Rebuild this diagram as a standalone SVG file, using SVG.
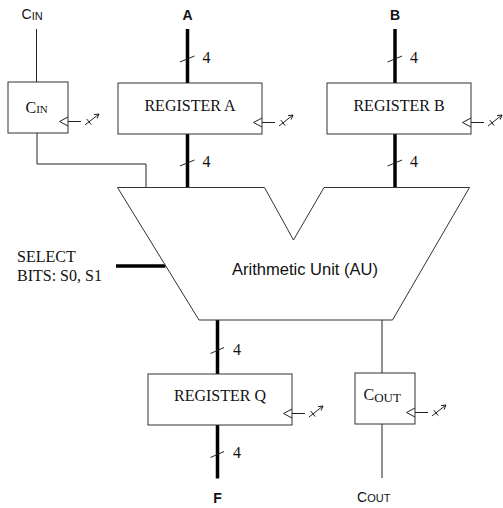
<svg xmlns="http://www.w3.org/2000/svg" xmlns:xlink="http://www.w3.org/1999/xlink" width="503" height="508" viewBox="0 0 503 508">
<style>
  .box { fill: #fff; stroke: #333; stroke-width: 1; }
  .thin { fill: none; stroke: #222; stroke-width: 1; }
  .bus { fill: none; stroke: #000; stroke-width: 3.5; }
  .tick { fill: none; stroke: #222; stroke-width: 1; }
  .serif { font-family: "Liberation Serif", "Times New Roman", serif; fill: #111; }
  .sans { font-family: "Liberation Sans", Arial, sans-serif; fill: #111; }
  .bold { font-weight: bold; }
</style>
<defs>
  <g id="clk" fill="none" stroke="#222" stroke-width="1">
    <polyline points="0,-16 -8.5,-11.5 0,-7"/>
    <line x1="0" y1="-11.5" x2="13" y2="-11.5"/>
    <line x1="17" y1="-8" x2="31" y2="-19"/>
    <polyline points="26,-18.3 31,-19 29.1,-14.4"/>
    <line x1="18.8" y1="-13.9" x2="23.2" y2="-8.4"/>
  </g>
</defs>

<g id="connectors">
  <!-- Cin input -->
  <line class="thin" x1="36.5" y1="29" x2="36.5" y2="82"/>
  <polyline class="thin" points="37,133 37,164 146,164 146,187.5"/>
  <!-- Bus A -->
  <line class="bus" x1="187.5" y1="29" x2="187.5" y2="83"/>
  <line class="tick" x1="180" y1="62" x2="194.5" y2="56"/>
  <text class="serif" x="202.5" y="63" font-size="16">4</text>
  <line class="bus" x1="187.5" y1="134" x2="187.5" y2="187.5"/>
  <line class="tick" x1="180" y1="166" x2="194.5" y2="160"/>
  <text class="serif" x="202.5" y="167" font-size="16">4</text>
  <!-- Bus B -->
  <line class="bus" x1="395" y1="29" x2="395" y2="83"/>
  <line class="tick" x1="387.5" y1="62" x2="402" y2="56"/>
  <text class="serif" x="410" y="63" font-size="16">4</text>
  <line class="bus" x1="395" y1="134" x2="395" y2="187.5"/>
  <line class="tick" x1="387.5" y1="166" x2="402" y2="160"/>
  <text class="serif" x="410" y="167" font-size="16">4</text>
  <!-- Select -->
  <line class="bus" x1="116" y1="266" x2="165.5" y2="266"/>
  <!-- Bus Q -->
  <line class="bus" x1="217.5" y1="320" x2="217.5" y2="374"/>
  <line class="tick" x1="210.5" y1="353.5" x2="224" y2="347.5"/>
  <text class="serif" x="233" y="355" font-size="16">4</text>
  <line class="bus" x1="217.5" y1="425" x2="217.5" y2="478.5"/>
  <line class="tick" x1="210.5" y1="457.5" x2="224" y2="451.5"/>
  <text class="serif" x="233" y="458" font-size="16">4</text>
  <!-- Cout -->
  <line class="thin" x1="382" y1="320" x2="382" y2="373"/>
  <line class="thin" x1="382" y1="424" x2="382" y2="478"/>
</g>

<g id="labels">
  <text class="sans" x="21.5" y="19" font-size="14">C<tspan font-size="11" dy="1">IN</tspan></text>
  <text class="sans bold" x="187.5" y="20" font-size="14" text-anchor="middle">A</text>
  <text class="sans bold" x="395" y="20" font-size="14" text-anchor="middle">B</text>
  <text class="serif" x="17" y="261.5" font-size="16">SELECT</text>
  <text class="serif" x="17" y="281" font-size="16">BITS: S0, S1</text>
  <text class="sans bold" x="217.5" y="503" font-size="14" text-anchor="middle">F</text>
  <text class="sans" x="357" y="502" font-size="14">C<tspan font-size="11">OUT</tspan></text>
</g>

<g id="cin-reg">
  <rect class="box" x="8" y="82" width="60" height="51"/>
  <text class="serif" x="25.5" y="112.5" font-size="16">C<tspan font-size="11" dy="0.5">IN</tspan></text>
  <use xlink:href="#clk" href="#clk" transform="translate(68,133)"/>
</g>

<g id="register-a">
  <rect class="box" x="118" y="83" width="144" height="51"/>
  <text class="serif" x="190" y="110.5" font-size="16" text-anchor="middle">REGISTER A</text>
  <use xlink:href="#clk" href="#clk" transform="translate(262,134)"/>
</g>

<g id="register-b">
  <rect class="box" x="327" y="83" width="144" height="51"/>
  <text class="serif" x="399" y="110.5" font-size="16" text-anchor="middle">REGISTER B</text>
  <use xlink:href="#clk" href="#clk" transform="translate(471,134)"/>
</g>

<g id="au">
  <polygon class="box" points="117.5,187.5 264.5,187.5 293.5,240 324,187.5 469.5,187.5 392.5,320 199,320"/>
  <text class="sans" x="305" y="275" font-size="16.5" text-anchor="middle">Arithmetic Unit (AU)</text>
</g>

<g id="register-q">
  <rect class="box" x="148" y="374" width="144" height="51"/>
  <text class="serif" x="220" y="401" font-size="16" text-anchor="middle">REGISTER Q</text>
  <use xlink:href="#clk" href="#clk" transform="translate(292,425)"/>
</g>

<g id="cout-reg">
  <rect class="box" x="355" y="373" width="60" height="51"/>
  <text class="serif" x="363.5" y="400" font-size="16">C<tspan font-size="13" dy="1.5">OUT</tspan></text>
  <use xlink:href="#clk" href="#clk" transform="translate(415,424)"/>
</g>
</svg>
